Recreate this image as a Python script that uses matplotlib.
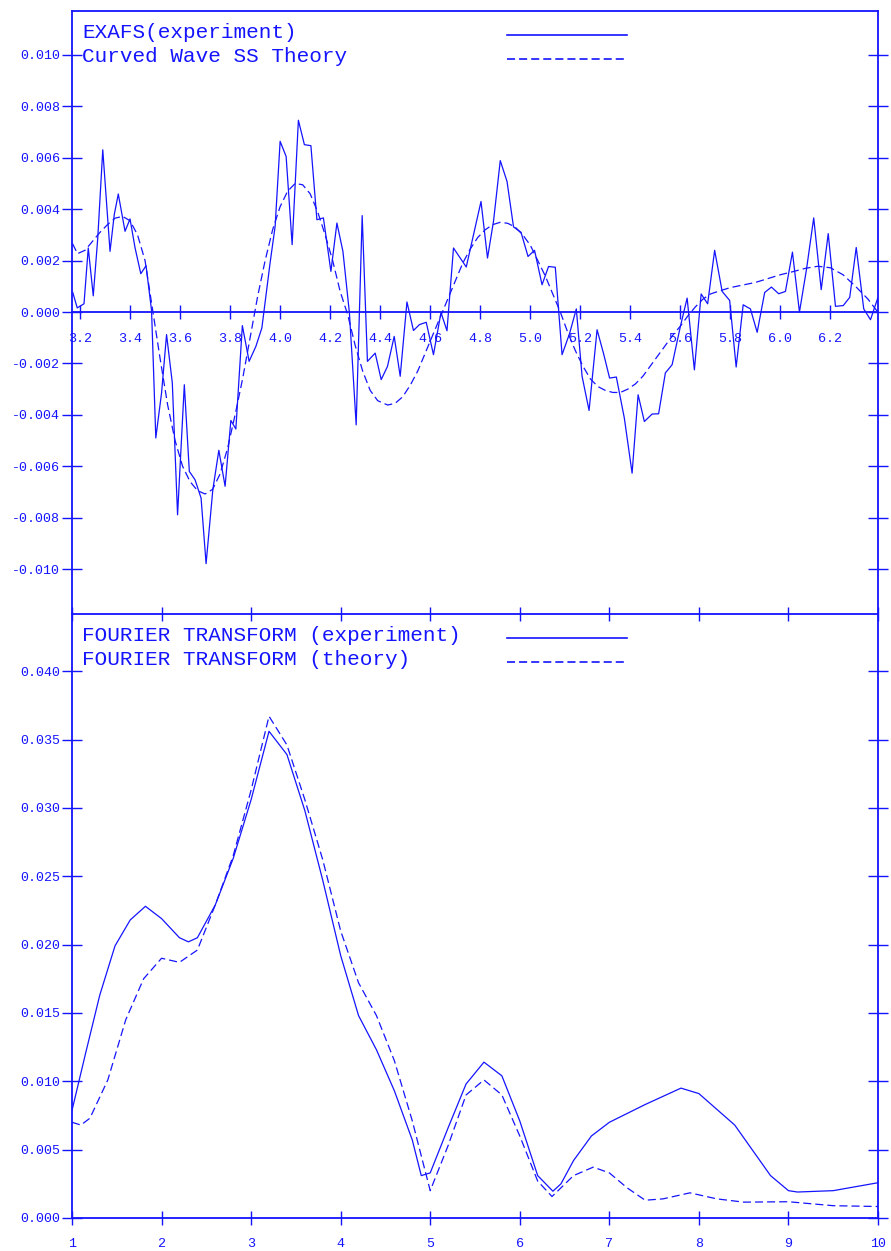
import matplotlib
matplotlib.use("Agg")
import matplotlib.pyplot as plt
from matplotlib.ticker import FixedLocator, FormatStrFormatter

# ---------------- EXAFS (k-space) ----------------
k_exp = [3.171, 3.189, 3.216, 3.233, 3.253, 3.271, 3.291, 3.320, 3.337, 3.353,
         3.380, 3.400, 3.420, 3.443, 3.464, 3.486, 3.503, 3.526, 3.546, 3.569,
         3.590, 3.617, 3.637, 3.660, 3.684, 3.704, 3.731, 3.755, 3.780, 3.803,
         3.823, 3.849, 3.876, 3.903, 3.927, 3.960, 3.980, 4.000, 4.024, 4.048,
         4.073, 4.097, 4.123, 4.147, 4.173, 4.203, 4.227, 4.251, 4.277, 4.304,
         4.328, 4.349, 4.380, 4.404, 4.429, 4.456, 4.480, 4.507, 4.533, 4.557,
         4.584, 4.613, 4.643, 4.667, 4.693, 4.744, 4.803, 4.829, 4.853, 4.880,
         4.907, 4.933, 4.963, 4.991, 5.017, 5.047, 5.073, 5.100, 5.127, 5.157,
         5.184, 5.207, 5.235, 5.267, 5.293, 5.317, 5.344, 5.376, 5.407, 5.431,
         5.456, 5.487, 5.513, 5.540, 5.567, 5.600, 5.627, 5.656, 5.683, 5.709,
         5.737, 5.767, 5.797, 5.823, 5.851, 5.880, 5.907, 5.937, 5.964, 5.993,
         6.020, 6.048, 6.076, 6.104, 6.133, 6.163, 6.191, 6.220, 6.251, 6.277,
         6.303, 6.333, 6.360, 6.389]
chi_exp = [0.76, 0.16, 0.32, 2.49, 0.63, 2.88, 6.31, 2.36, 3.79, 4.59,
           3.14, 3.62, 2.50, 1.49, 1.80, 0.06, -4.90, -3.15, -0.88, -2.76,
           -7.89, -2.83, -6.20, -6.53, -7.24, -9.79, -6.91, -5.38, -6.78, -4.22,
           -4.55, -0.53, -1.92, -1.34, -0.62, 1.92, 3.33, 6.64, 6.05, 2.62,
           7.46, 6.51, 6.47, 3.59, 3.66, 1.58, 3.46, 2.36, -0.04, -4.39,
           3.75, -1.92, -1.60, -2.63, -2.12, -0.95, -2.50, 0.39, -0.72, -0.49,
           -0.40, -1.66, -0.02, -0.73, 2.49, 1.75, 4.30, 2.10, 3.53, 5.89,
           5.08, 3.31, 3.10, 2.16, 2.40, 1.06, 1.77, 1.74, -1.66, -0.84,
           0.12, -2.50, -3.83, -0.69, -1.62, -2.57, -2.53, -4.13, -6.27, -3.22,
           -4.26, -3.97, -3.96, -2.37, -2.05, -0.56, 0.54, -2.25, 0.70, 0.32,
           2.40, 0.80, 0.45, -2.14, 0.28, 0.12, -0.79, 0.76, 0.97, 0.71,
           0.80, 2.33, 0.00, 1.65, 3.66, 0.87, 3.05, 0.22, 0.25, 0.57,
           2.51, 0.12, -0.30, 0.54]

k_th = [3.170, 3.190, 3.220, 3.250, 3.280, 3.310, 3.340, 3.370, 3.400, 3.430,
        3.460, 3.490, 3.520, 3.550, 3.580, 3.610, 3.640, 3.670, 3.700, 3.730,
        3.760, 3.790, 3.820, 3.850, 3.880, 3.910, 3.940, 3.970, 4.000, 4.030,
        4.060, 4.090, 4.120, 4.150, 4.180, 4.210, 4.240, 4.270, 4.300, 4.330,
        4.360, 4.390, 4.430, 4.460, 4.490, 4.520, 4.550, 4.580, 4.610, 4.640,
        4.670, 4.700, 4.730, 4.760, 4.790, 4.820, 4.850, 4.880, 4.910, 4.940,
        4.970, 5.000, 5.030, 5.060, 5.090, 5.120, 5.150, 5.180, 5.210, 5.240,
        5.270, 5.300, 5.330, 5.360, 5.390, 5.420, 5.450, 5.480, 5.510, 5.540,
        5.570, 5.600, 5.630, 5.660, 5.690, 5.720, 5.750, 5.800, 5.850, 5.900,
        5.950, 6.000, 6.050, 6.100, 6.150, 6.200, 6.250, 6.300, 6.350, 6.389]
chi_th = [2.66, 2.27, 2.40, 2.75, 3.10, 3.40, 3.65, 3.72, 3.55, 3.00,
          2.00, 0.10, -1.80, -3.60, -5.00, -6.00, -6.60, -6.95, -7.08, -6.90,
          -6.30, -5.30, -4.00, -2.60, -1.00, 0.60, 2.00, 3.20, 4.10, 4.70,
          5.00, 4.95, 4.60, 3.90, 3.00, 2.00, 0.80, -0.10, -1.30, -2.30,
          -3.05, -3.45, -3.62, -3.55, -3.30, -2.85, -2.30, -1.60, -0.90, -0.20,
          0.50, 1.20, 1.90, 2.45, 2.90, 3.20, 3.40, 3.49, 3.45, 3.30,
          3.00, 2.60, 2.00, 1.40, 0.70, 0.00, -0.80, -1.50, -2.10, -2.60,
          -2.90, -3.05, -3.13, -3.13, -3.00, -2.80, -2.50, -2.10, -1.70, -1.30,
          -0.90, -0.55, -0.15, 0.20, 0.50, 0.70, 0.80, 0.95, 1.05, 1.15,
          1.30, 1.45, 1.57, 1.70, 1.78, 1.72, 1.45, 1.00, 0.50, 0.00]

# ---------------- Fourier transform (r-space) ----------------
r_exp = [1.0, 1.15, 1.31, 1.48, 1.65, 1.82, 2.0, 2.2, 2.3, 2.4, 2.6, 2.8, 3.0,
         3.2, 3.4, 3.6, 3.8, 4.0, 4.2, 4.4, 4.6, 4.8, 4.9, 5.0, 5.2, 5.4, 5.6,
         5.8, 6.0, 6.2, 6.37, 6.46, 6.6, 6.8, 7.0, 7.4, 7.8, 8.0, 8.4, 8.8, 9.0,
         9.1, 9.5, 10.0]
ft_exp = [7.87, 12.0, 16.3, 19.9, 21.8, 22.8, 21.9, 20.5, 20.2, 20.5, 22.9,
          26.3, 30.6, 35.6, 33.9, 29.8, 24.7, 19.2, 14.8, 12.3, 9.3, 5.7, 3.1,
          3.3, 6.6, 9.8, 11.4, 10.4, 7.1, 3.1, 1.96, 2.5, 4.2, 6.0, 7.0, 8.3,
          9.5, 9.1, 6.8, 3.1, 2.0, 1.9, 2.0, 2.58]

r_th = [1.0, 1.1, 1.2, 1.4, 1.6, 1.8, 2.0, 2.2, 2.4, 2.6, 2.8, 3.0, 3.2, 3.4,
        3.6, 3.8, 4.0, 4.2, 4.4, 4.6, 4.8, 5.0, 5.2, 5.4, 5.6, 5.8, 6.0, 6.2,
        6.36, 6.6, 6.82, 7.0, 7.2, 7.4, 7.6, 7.9, 8.2, 8.5, 9.0, 9.5, 10.0]
ft_th = [7.0, 6.8, 7.3, 10.1, 14.5, 17.5, 19.0, 18.7, 19.6, 22.9, 26.5, 31.3,
         36.7, 34.6, 30.6, 26.2, 21.0, 17.2, 14.8, 11.5, 7.1, 2.0, 5.3, 9.0,
         10.1, 9.0, 6.0, 2.7, 1.57, 3.1, 3.72, 3.3, 2.2, 1.3, 1.4, 1.84, 1.4,
         1.16, 1.19, 0.9, 0.84]

exafs_labels = ["EXAFS(experiment)", "Curved Wave SS Theory"]
ft_labels = ["FOURIER TRANSFORM (experiment)", "FOURIER TRANSFORM (theory)"]
exafs_xticks = [3.2, 3.4, 3.6, 3.8, 4.0, 4.2, 4.4, 4.6, 4.8, 5.0, 5.2, 5.4,
                5.6, 5.8, 6.0, 6.2]
exafs_yticks = [-0.010, -0.008, -0.006, -0.004, -0.002, 0.0, 0.002, 0.004,
                0.006, 0.008, 0.010]
ft_xticks = [1, 2, 3, 4, 5, 6, 7, 8, 9, 10]
ft_yticks = [0.0, 0.005, 0.010, 0.015, 0.020, 0.025, 0.030, 0.035, 0.040]

# ---------------- style ----------------
BLUE = "#1414ff"
plt.rcParams["font.family"] = ["Liberation Mono", "DejaVu Sans Mono"]
plt.rcParams["lines.scale_dashes"] = False
DASH = (5.8, 2.9)
LW = 0.9
TICKFS = 9.6
LEGFS = 15.1

W, H = 891, 1251
fig = plt.figure(figsize=(W / 100, H / 100), dpi=100)
L, R = 72 / W, 878 / W
ax1 = fig.add_axes([L, 1 - 613 / H, R - L, (613 - 11) / H])
ax2 = fig.add_axes([L, 1 - 1218 / H, R - L, (1218 - 614) / H])

for ax in (ax1, ax2):
    for s in ax.spines.values():
        s.set_color(BLUE)
        s.set_linewidth(1.3)
    ax.tick_params(colors=BLUE, labelcolor=BLUE, width=1.0)

# ---- top panel: EXAFS ----
ax1.plot(k_exp, [v * 1e-3 for v in chi_exp], color=BLUE, lw=LW)
ax1.plot(k_th, [v * 1e-3 for v in chi_th], color=BLUE, lw=LW, dashes=DASH)
ax1.set_xlim(3.168, 6.39)
ax1.set_ylim(-0.01171, 0.01171)
ax1.spines["bottom"].set_position(("data", 0.0))
ax1.xaxis.set_major_locator(FixedLocator(exafs_xticks))
ax1.xaxis.set_major_formatter(FormatStrFormatter("%.1f"))
ax1.yaxis.set_major_locator(FixedLocator(exafs_yticks))
ax1.yaxis.set_major_formatter(FormatStrFormatter("%.3f"))
ax1.tick_params(axis="x", direction="inout", length=10, pad=10,
                labelsize=TICKFS, top=False)
ax1.tick_params(axis="y", direction="inout", length=14, pad=1.5,
                labelsize=TICKFS, right=True)

# ---- bottom panel: Fourier transform ----
ax2.plot(r_exp, [v * 1e-3 for v in ft_exp], color=BLUE, lw=LW)
ax2.plot(r_th, [v * 1e-3 for v in ft_th], color=BLUE, lw=LW, dashes=DASH)
ax2.set_xlim(1, 10)
ax2.set_ylim(0, 0.04418)
ax2.xaxis.set_major_locator(FixedLocator(ft_xticks))
ax2.xaxis.set_major_formatter(FormatStrFormatter("%d"))
ax2.yaxis.set_major_locator(FixedLocator(ft_yticks))
ax2.yaxis.set_major_formatter(FormatStrFormatter("%.3f"))
ax2.tick_params(axis="x", direction="inout", length=10, pad=9.5,
                labelsize=TICKFS, top=True)
ax2.tick_params(axis="y", direction="inout", length=14, pad=1.5,
                labelsize=TICKFS, right=True)

# ---- key entries: label on the left, line sample on the right ----
def key(ax, ytop_px, ybot_px, y_px, text, dashed):
    h = ybot_px - ytop_px
    fy = 1 - (y_px - ytop_px) / h
    ax.text((82 - 72) / 806, fy, text, transform=ax.transAxes,
            color=BLUE, fontsize=LEGFS, va="center", ha="left")
    kw = dict(color=BLUE, lw=1.2, transform=ax.transAxes, clip_on=False)
    if dashed:
        kw["dashes"] = DASH
    ax.plot([(507 - 72) / 806, (627 - 72) / 806], [fy - 2.5 / h, fy - 2.5 / h], **kw)

key(ax1, 11, 613, 32, exafs_labels[0], False)
key(ax1, 11, 613, 56.5, exafs_labels[1], True)
key(ax2, 614, 1218, 635.5, ft_labels[0], False)
key(ax2, 614, 1218, 659.5, ft_labels[1], True)

fig.savefig("out.png", dpi=100)
